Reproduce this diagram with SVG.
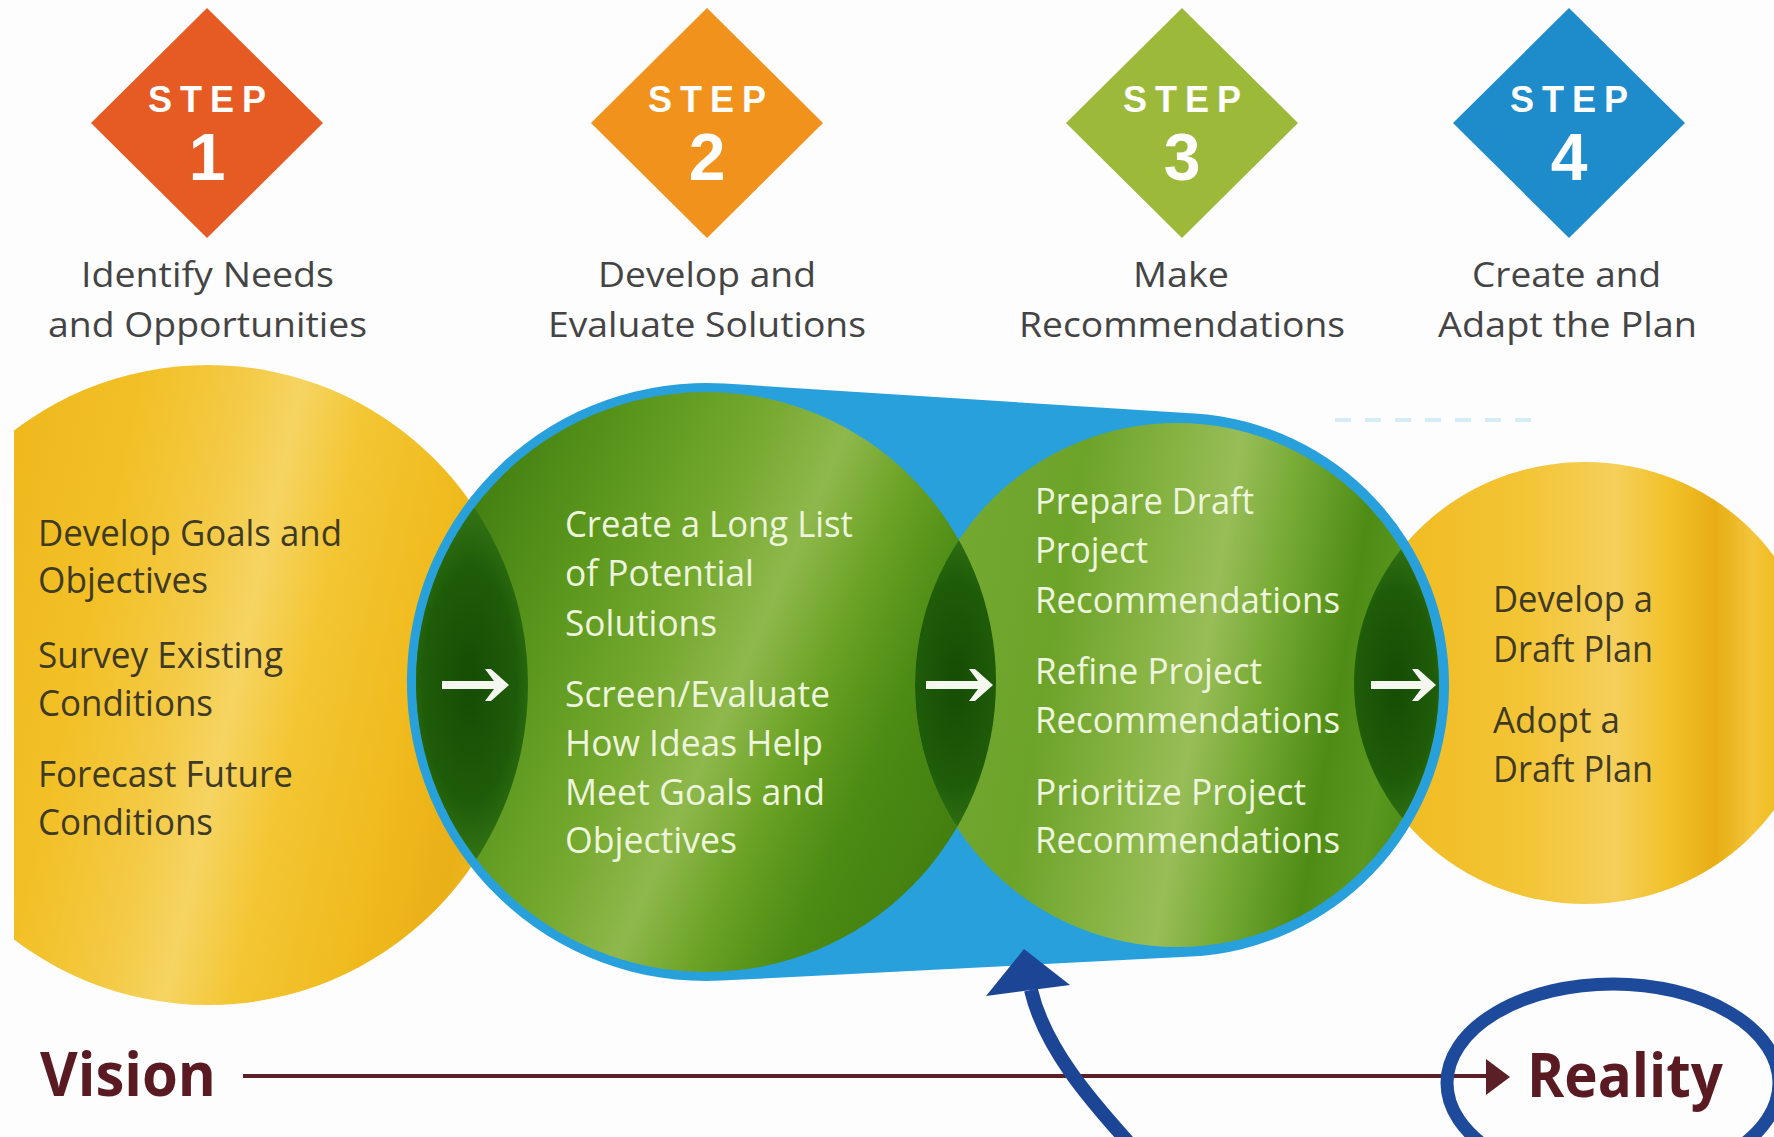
<svg xmlns="http://www.w3.org/2000/svg" width="1774" height="1137" viewBox="0 0 1774 1137">
<defs>
<style>
.lbl{font-family:"Open Sans","Liberation Sans",sans-serif;font-size:35px;fill:#444444}
.step{font-family:"Liberation Sans",Arial,sans-serif;font-weight:700;fill:#ffffff}
.st{font-size:36px}
.num{font-size:66px}
.dk{font-family:"Open Sans","Liberation Sans",sans-serif;font-size:37px;fill:#3f3a26}
.lt{font-family:"Open Sans","Liberation Sans",sans-serif;font-size:37px;fill:#eef5dd}
.vr{font-family:"Open Sans","Liberation Sans",sans-serif;font-weight:700;font-size:60px;fill:#5a1a22}
.warrow{fill:#f4f8ee}
</style>
<linearGradient id="goldL" gradientUnits="userSpaceOnUse" x1="-112" y1="614" x2="528" y2="756">
<stop offset="0" stop-color="#ecb316"/>
<stop offset="0.3" stop-color="#f2c026"/>
<stop offset="0.45" stop-color="#f4ca45"/>
<stop offset="0.54" stop-color="#f6d462"/>
<stop offset="0.64" stop-color="#f3c634"/>
<stop offset="0.8" stop-color="#f0bb1e"/>
<stop offset="0.92" stop-color="#e9b017"/>
<stop offset="1" stop-color="#f0bc22"/>
</linearGradient>
<linearGradient id="goldR" gradientUnits="userSpaceOnUse" x1="1354" y1="683" x2="1774" y2="683">
<stop offset="0" stop-color="#f0b91c"/>
<stop offset="0.4" stop-color="#f3c435"/>
<stop offset="0.62" stop-color="#f5cf5a"/>
<stop offset="0.75" stop-color="#f2c12a"/>
<stop offset="0.86" stop-color="#e7ad15"/>
<stop offset="0.95" stop-color="#f3c53a"/>
<stop offset="1" stop-color="#f0bc22"/>
</linearGradient>
<linearGradient id="green1" gradientUnits="userSpaceOnUse" x1="440" y1="566" x2="972" y2="798">
<stop offset="0" stop-color="#427f12"/>
<stop offset="0.2" stop-color="#5a961c"/>
<stop offset="0.4" stop-color="#74a82e"/>
<stop offset="0.55" stop-color="#8fb84c"/>
<stop offset="0.68" stop-color="#6aa224"/>
<stop offset="0.82" stop-color="#4c8b14"/>
<stop offset="1" stop-color="#437f10"/>
</linearGradient>
<linearGradient id="green2" gradientUnits="userSpaceOnUse" x1="917" y1="640" x2="1439" y2="730">
<stop offset="0" stop-color="#76aa33"/>
<stop offset="0.25" stop-color="#6ca329"/>
<stop offset="0.42" stop-color="#86b342"/>
<stop offset="0.54" stop-color="#98bd58"/>
<stop offset="0.66" stop-color="#74a932"/>
<stop offset="0.8" stop-color="#4e8c16"/>
<stop offset="0.9" stop-color="#5a981f"/>
<stop offset="1" stop-color="#4a8a14"/>
</linearGradient>
<radialGradient id="lensL" gradientUnits="userSpaceOnUse" cx="470" cy="685" r="180" gradientTransform="matrix(0.4 0 0 1 282 0)">
<stop offset="0" stop-color="#154d04"/>
<stop offset="0.65" stop-color="#1f5c09"/>
<stop offset="1" stop-color="#347516"/>
</radialGradient>
<radialGradient id="lensM" gradientUnits="userSpaceOnUse" cx="957" cy="683" r="160" gradientTransform="matrix(0.4 0 0 1 574.2 0)">
<stop offset="0" stop-color="#154d04"/>
<stop offset="0.65" stop-color="#1f5c09"/>
<stop offset="1" stop-color="#347516"/>
</radialGradient>
<radialGradient id="lensR" gradientUnits="userSpaceOnUse" cx="1396" cy="685" r="150" gradientTransform="matrix(0.4 0 0 1 837.6 0)">
<stop offset="0" stop-color="#154d04"/>
<stop offset="0.65" stop-color="#1f5c09"/>
<stop offset="1" stop-color="#347516"/>
</radialGradient>
<clipPath id="clipLeft"><rect x="14" y="0" width="1760" height="1137"/></clipPath>
<clipPath id="clipC1"><circle cx="706" cy="682" r="290"/></clipPath>
<clipPath id="clipC2"><circle cx="1177" cy="685" r="262"/></clipPath>
</defs>

<rect x="0" y="0" width="1774" height="1137" fill="#fdfdfd"/>

<!-- Step headers -->
<g id="step1">
<polygon points="207,8 323,123 207,238 91,123" fill="#e55b23"/>
<text class="step st" x="148" y="112" textLength="118" lengthAdjust="spacing">STEP</text>
<text class="step num" x="207" y="180" text-anchor="middle">1</text>
<text class="lbl" x="81" y="287" textLength="253" lengthAdjust="spacingAndGlyphs">Identify Needs</text>
<text class="lbl" x="48" y="337" textLength="319" lengthAdjust="spacingAndGlyphs">and Opportunities</text>
</g>
<g id="step2">
<polygon points="707,8 823,123 707,238 591,123" fill="#f0921c"/>
<text class="step st" x="648" y="112" textLength="118" lengthAdjust="spacing">STEP</text>
<text class="step num" x="707" y="180" text-anchor="middle">2</text>
<text class="lbl" x="598" y="287" textLength="218" lengthAdjust="spacingAndGlyphs">Develop and</text>
<text class="lbl" x="548" y="337" textLength="318" lengthAdjust="spacingAndGlyphs">Evaluate Solutions</text>
</g>
<g id="step3">
<polygon points="1182,8 1298,123 1182,238 1066,123" fill="#9cb93a"/>
<text class="step st" x="1123" y="112" textLength="118" lengthAdjust="spacing">STEP</text>
<text class="step num" x="1182" y="180" text-anchor="middle">3</text>
<text class="lbl" x="1133" y="287" textLength="96" lengthAdjust="spacingAndGlyphs">Make</text>
<text class="lbl" x="1019" y="337" textLength="326" lengthAdjust="spacingAndGlyphs">Recommendations</text>
</g>
<g id="step4">
<polygon points="1569,8 1685,123 1569,238 1453,123" fill="#1e8bcb"/>
<text class="step st" x="1510" y="112" textLength="118" lengthAdjust="spacing">STEP</text>
<text class="step num" x="1569" y="180" text-anchor="middle">4</text>
<text class="lbl" x="1472" y="287" textLength="189" lengthAdjust="spacingAndGlyphs">Create and</text>
<text class="lbl" x="1438" y="337" textLength="259" lengthAdjust="spacingAndGlyphs">Adapt the Plan</text>
</g>

<!-- Gold circles -->
<g id="gold-left">
<circle cx="208" cy="685" r="320" fill="url(#goldL)" clip-path="url(#clipLeft)"/>
</g>
<g id="gold-right">
<ellipse cx="1585" cy="683" rx="231" ry="221" fill="url(#goldR)"/>
</g>

<!-- Blue funnel with green circles -->
<g id="funnel">
<path d="M725,383.6 L1194.3,413.5 A272,272 0 0 1 1190.8,956.6 L721.2,980.6 A299,299 0 1 1 725,383.6 Z" fill="#27a0db"/>
<line x1="1335" y1="420" x2="1545" y2="420" stroke="#d6ecf8" stroke-width="4" stroke-dasharray="16 14"/>
</g>
<g id="solutions">
<circle cx="706" cy="682" r="290" fill="url(#green1)"/>
</g>
<g id="recommendations">
<circle cx="1177" cy="685" r="262" fill="url(#green2)"/>
</g>
<g id="lenses">
<circle cx="208" cy="685" r="320" fill="url(#lensL)" clip-path="url(#clipC1)"/>
<circle cx="1177" cy="685" r="262" fill="url(#lensM)" clip-path="url(#clipC1)"/>
<ellipse cx="1585" cy="683" rx="231" ry="221" fill="url(#lensR)" clip-path="url(#clipC2)"/>
</g>

<!-- Texts inside circles -->
<g id="gold-left-text">
<text class="dk" x="38" y="546" textLength="304" lengthAdjust="spacingAndGlyphs">Develop Goals and</text>
<text class="dk" x="38" y="593" textLength="170" lengthAdjust="spacingAndGlyphs">Objectives</text>
<text class="dk" x="38" y="668" textLength="245" lengthAdjust="spacingAndGlyphs">Survey Existing</text>
<text class="dk" x="38" y="716" textLength="175" lengthAdjust="spacingAndGlyphs">Conditions</text>
<text class="dk" x="38" y="787" textLength="255" lengthAdjust="spacingAndGlyphs">Forecast Future</text>
<text class="dk" x="38" y="835" textLength="175" lengthAdjust="spacingAndGlyphs">Conditions</text>
</g>
<g id="solutions-text">
<text class="lt" x="565" y="537" textLength="288" lengthAdjust="spacingAndGlyphs">Create a Long List</text>
<text class="lt" x="565" y="586" textLength="189" lengthAdjust="spacingAndGlyphs">of Potential</text>
<text class="lt" x="565" y="636" textLength="152" lengthAdjust="spacingAndGlyphs">Solutions</text>
<text class="lt" x="565" y="707" textLength="265" lengthAdjust="spacingAndGlyphs">Screen/Evaluate</text>
<text class="lt" x="565" y="756" textLength="258" lengthAdjust="spacingAndGlyphs">How Ideas Help</text>
<text class="lt" x="565" y="805" textLength="260" lengthAdjust="spacingAndGlyphs">Meet Goals and</text>
<text class="lt" x="565" y="853" textLength="172" lengthAdjust="spacingAndGlyphs">Objectives</text>
</g>
<g id="recommendations-text">
<text class="lt" x="1035" y="514" textLength="219" lengthAdjust="spacingAndGlyphs">Prepare Draft</text>
<text class="lt" x="1035" y="563" textLength="113" lengthAdjust="spacingAndGlyphs">Project</text>
<text class="lt" x="1035" y="613" textLength="305" lengthAdjust="spacingAndGlyphs">Recommendations</text>
<text class="lt" x="1035" y="684" textLength="227" lengthAdjust="spacingAndGlyphs">Refine Project</text>
<text class="lt" x="1035" y="733" textLength="305" lengthAdjust="spacingAndGlyphs">Recommendations</text>
<text class="lt" x="1035" y="805" textLength="271" lengthAdjust="spacingAndGlyphs">Prioritize Project</text>
<text class="lt" x="1035" y="853" textLength="305" lengthAdjust="spacingAndGlyphs">Recommendations</text>
</g>
<g id="gold-right-text">
<text class="dk" x="1493" y="612" textLength="160" lengthAdjust="spacingAndGlyphs">Develop a</text>
<text class="dk" x="1493" y="662" textLength="160" lengthAdjust="spacingAndGlyphs">Draft Plan</text>
<text class="dk" x="1493" y="733" textLength="127" lengthAdjust="spacingAndGlyphs">Adopt a</text>
<text class="dk" x="1493" y="782" textLength="160" lengthAdjust="spacingAndGlyphs">Draft Plan</text>
</g>

<!-- Vision / Reality -->
<g id="vision">
<text class="vr" x="40" y="1096" textLength="176" lengthAdjust="spacingAndGlyphs">Vision</text>
</g>
<g id="reality">
<text class="vr" x="1527" y="1097" textLength="196" lengthAdjust="spacingAndGlyphs">Reality</text>
</g>

<!-- Connectors -->
<g id="connectors">
<path class="warrow" d="M442,681 L494,681 L485,669 L491,669 L509,685 L491,701 L485,701 L494,689 L442,689 Z"/>
<path class="warrow" d="M926,681 L978,681 L969,669 L975,669 L993,685 L975,701 L969,701 L978,689 L926,689 Z"/>
<path class="warrow" d="M1371,681 L1421,681 L1412,669 L1418,669 L1436,685 L1418,701 L1412,701 L1421,689 L1371,689 Z"/>
<line x1="243" y1="1076" x2="1490" y2="1076" stroke="#5b1f27" stroke-width="4"/>
<polygon points="1486,1059 1510,1077 1486,1095" fill="#5b1f27"/>
<ellipse cx="1613" cy="1083" rx="166" ry="99" fill="none" stroke="#1d4a9b" stroke-width="13"/>
<path d="M1128,1142 C1095,1105 1045,1050 1031,990" fill="none" stroke="#1d4595" stroke-width="14"/>
<polygon points="1024,949 986,996 1070,985" fill="#1d4595"/>
</g>
</svg>
